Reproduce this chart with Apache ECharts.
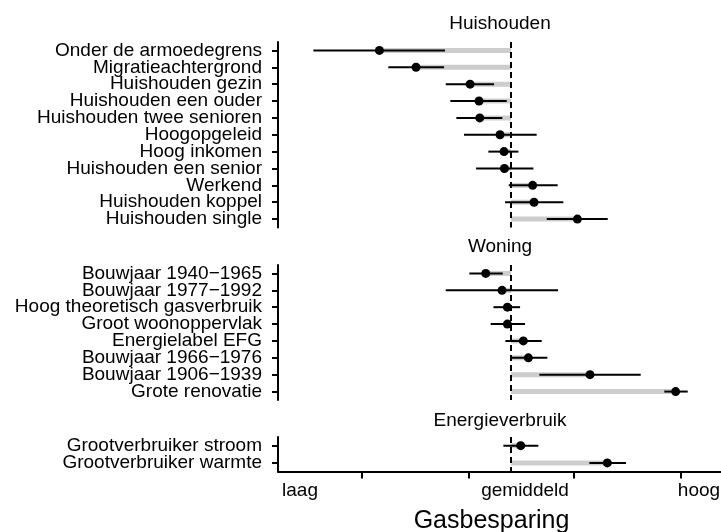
<!DOCTYPE html>
<html>
<head>
<meta charset="utf-8">
<script src="https://cdn.jsdelivr.net/npm/echarts@6/dist/echarts.min.js"></script>
<style>
  html, body { margin: 0; padding: 0; background: #fff; }
  #chart { width: 721px; height: 532px; }
</style>
</head>
<body>
<div id="chart"></div>
<script>
// Huishouden
const huisLabels = ['Onder de armoedegrens', 'Migratieachtergrond', 'Huishouden gezin', 'Huishouden een ouder',
  'Huishouden twee senioren', 'Hoogopgeleid', 'Hoog inkomen', 'Huishouden een senior', 'Werkend',
  'Huishouden koppel', 'Huishouden single'];
const huisEst = [-12.54, -9.05, -3.90, -3.05, -2.98, -1.05, -0.67, -0.63, 2.06, 2.19, 6.32];
const huisLow = [-18.83, -11.69, -6.22, -5.78, -5.21, -4.48, -2.16, -3.33, -0.22, -0.57, 3.40];
const huisHigh = [-6.29, -6.38, -1.62, -0.41, -0.83, 2.44, 0.70, 2.13, 4.44, 4.98, 9.21];

// Woning
const woningLabels = ['Bouwjaar 1940\u22121965', 'Bouwjaar 1977\u22121992', 'Hoog theoretisch gasverbruik',
  'Groot woonoppervlak', 'Energielabel EFG', 'Bouwjaar 1966\u22121976', 'Bouwjaar 1906\u22121939', 'Grote renovatie'];
const woningEst = [-2.41, -0.86, -0.35, -0.35, 1.17, 1.65, 7.52, 15.68];
const woningLow = [-3.97, -6.22, -1.68, -1.94, -0.54, -0.10, 2.70, 14.60];
const woningHigh = [-0.79, 4.48, 0.86, 1.33, 2.92, 3.46, 12.35, 16.83];

// Energieverbruik
const energieLabels = ['Grootverbruiker stroom', 'Grootverbruiker warmte'];
const energieEst = [0.92, 9.17];
const energieLow = [-0.73, 7.46];
const energieHigh = [2.60, 10.95];

// x-as
const xTicks = [-14.2, -4, 6, 16.2];
const xTickLabels = ['laag', 'gemiddeld', 'hoog'];
const xLabelPos = [-20.1, 1.33, 17.9];

const font = '"Liberation Sans", Arial, Helvetica, sans-serif';

const panels = [
  { title: 'Huishouden', labels: huisLabels, est: huisEst, low: huisLow, high: huisHigh, top: 42, height: 185.5, titleY: 24 },
  { title: 'Woning', labels: woningLabels, est: woningEst, low: woningLow, high: woningHigh, top: 265, height: 135, titleY: 247 },
  { title: 'Energieverbruik', labels: energieLabels, est: energieEst, low: energieLow, high: energieHigh, top: 437, height: 34.5, titleY: 421 }
];

// grijze balk van gemiddeld (0) tot de schatting
const renderBar = (params, api) => {
  const y = api.value(1);
  const a = api.coord([0, y]);
  const b = api.coord([api.value(0), y]);
  const h = 5;
  return {
    type: 'rect',
    shape: { x: Math.min(a[0], b[0]), y: a[1] - h / 2, width: Math.abs(b[0] - a[0]), height: h },
    style: { fill: '#cdcdcd' }
  };
};

// betrouwbaarheidsinterval: data [laag, rij, hoog]
const renderCI = (params, api) => {
  const y = api.value(1);
  const a = api.coord([api.value(0), y]);
  const b = api.coord([api.value(2), y]);
  return {
    type: 'line',
    shape: { x1: a[0], y1: a[1], x2: b[0], y2: b[1] },
    style: { stroke: '#000', lineWidth: 2 }
  };
};

const grids = [], xAxes = [], yAxes = [], series = [], graphics = [];

panels.forEach((p, k) => {
  const last = k === panels.length - 1;
  grids.push({ left: 278, width: 443, top: p.top, height: p.height, containLabel: false, outerBoundsMode: 'none' });
  xAxes.push({
    gridIndex: k,
    type: 'value',
    position: 'bottom',
    min: -22.2,
    max: 20,
    show: last,
    name: last ? 'Gasbesparing' : '',
    nameLocation: 'middle',
    nameGap: 37,
    nameTextStyle: { fontSize: 25, color: '#000', fontFamily: font, padding: [0, 16, 0, 0] },
    axisLine: { show: true, onZero: false, lineStyle: { color: '#000', width: 2 } },
    axisTick: { show: true, customValues: xTicks, length: 7, lineStyle: { color: '#000', width: 2 } },
    axisLabel: {
      customValues: xLabelPos,
      margin: 10,
      fontSize: 19,
      color: '#000',
      fontFamily: font,
      formatter: v => {
        let best = 0;
        xLabelPos.forEach((pos, i) => { if (Math.abs(pos - v) < Math.abs(xLabelPos[best] - v)) best = i; });
        return xTickLabels[best];
      }
    },
    splitLine: { show: false }
  });
  yAxes.push({
    gridIndex: k,
    type: 'category',
    position: 'left',
    inverse: true,
    data: p.labels,
    axisLine: { show: true, onZero: false, lineStyle: { color: '#000', width: 2 } },
    axisTick: { show: true, alignWithLabel: true, interval: 0, length: 6, lineStyle: { color: '#000', width: 2 } },
    axisLabel: {
      interval: 0,
      margin: 16,
      fontSize: 19,
      lineHeight: 15,
      color: '#000',
      fontFamily: font
    },
    splitLine: { show: false }
  });
  series.push({
    type: 'custom',
    xAxisIndex: k,
    yAxisIndex: k,
    renderItem: renderBar,
    encode: { x: 0, y: 1 },
    data: p.est.map((v, i) => [v, i]),
    silent: true
  });
  series.push({
    type: 'custom',
    xAxisIndex: k,
    yAxisIndex: k,
    renderItem: renderCI,
    encode: { x: 0, y: 1 },
    data: p.est.map((v, i) => [p.low[i], i, p.high[i]]),
    silent: true
  });
  series.push({
    type: 'scatter',
    xAxisIndex: k,
    yAxisIndex: k,
    symbol: 'circle',
    symbolSize: 9,
    itemStyle: { color: '#000', opacity: 1 },
    data: p.est.map((v, i) => [v, i]),
    silent: true,
    markLine: {
      silent: true,
      symbol: 'none',
      label: { show: false },
      lineStyle: { color: '#000', width: 2, type: [6, 4] },
      data: [{ xAxis: 0 }]
    }
  });
  graphics.push({
    type: 'text',
    x: 500,
    y: p.titleY,
    style: {
      text: p.title,
      fill: '#000',
      font: '19px ' + font,
      textAlign: 'center',
      textVerticalAlign: 'middle'
    }
  });
});

const chart = echarts.init(document.getElementById('chart'));
chart.setOption({
  animation: false,
  backgroundColor: '#fff',
  grid: grids,
  xAxis: xAxes,
  yAxis: yAxes,
  graphic: graphics,
  series: series
});
</script>
</body>
</html>
